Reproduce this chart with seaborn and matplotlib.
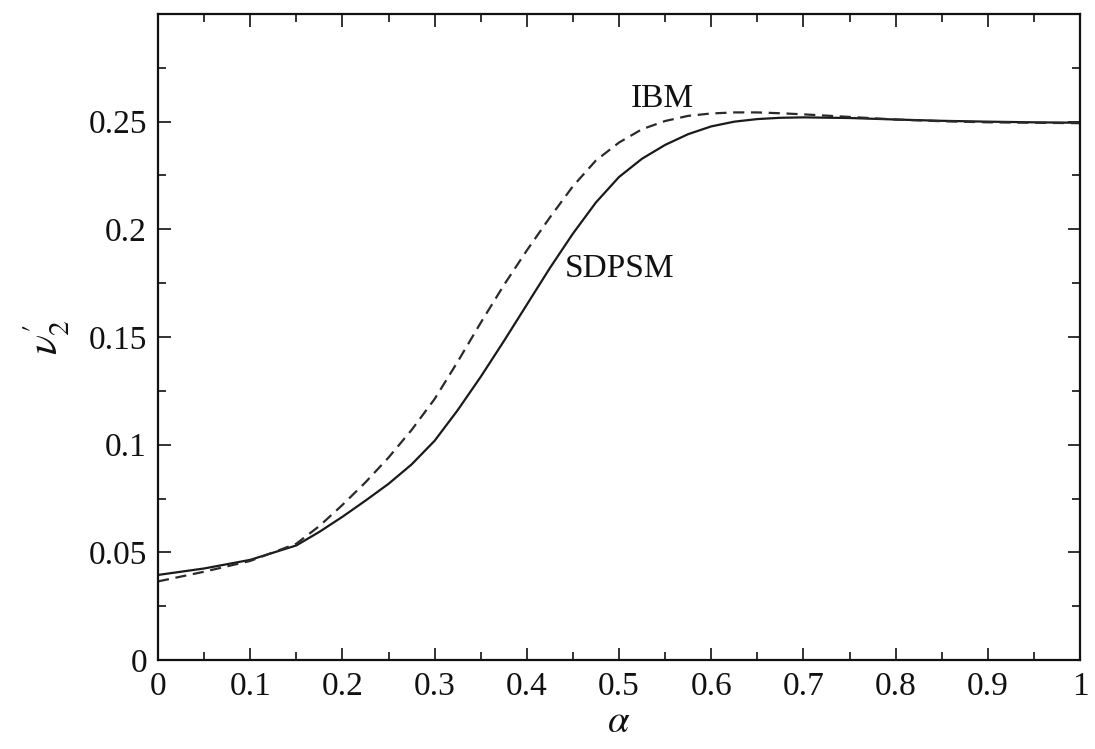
import numpy as np
import pandas as pd
import matplotlib
matplotlib.use("Agg")
import matplotlib.pyplot as plt
import seaborn as sns
from matplotlib.ticker import MultipleLocator, FixedLocator

alpha = [0.0, 0.05, 0.1, 0.15, 0.175, 0.2, 0.225, 0.25, 0.275, 0.3, 0.325,
         0.35, 0.375, 0.4, 0.425, 0.45, 0.475, 0.5, 0.525, 0.55, 0.575,
         0.6, 0.625, 0.65, 0.675, 0.7, 0.75, 0.8, 0.85, 0.9, 0.95, 1.0]
sdpsm = [0.0395, 0.0425, 0.0465, 0.0532, 0.0595, 0.0665, 0.0740, 0.0818,
         0.0908, 0.1018, 0.1160, 0.1315, 0.1480, 0.1650, 0.1820, 0.1980,
         0.2125, 0.2243, 0.2328, 0.2392, 0.2442, 0.2478, 0.2500, 0.2512,
         0.2518, 0.2520, 0.2517, 0.2510, 0.2504, 0.2500, 0.2497, 0.2495]
ibm = [0.0365, 0.0410, 0.0460, 0.0540, 0.0622, 0.0720, 0.0825, 0.0940,
       0.1068, 0.1212, 0.1385, 0.1566, 0.1740, 0.1902, 0.2055, 0.2200,
       0.2320, 0.2403, 0.2465, 0.2503, 0.2527, 0.2538, 0.2543, 0.2543,
       0.2539, 0.2534, 0.2522, 0.2510, 0.2502, 0.2497, 0.2495, 0.2493]
xticks = [0, 0.1, 0.2, 0.3, 0.4, 0.5, 0.6, 0.7, 0.8, 0.9, 1]
xticklabels = ["0", "0.1", "0.2", "0.3", "0.4", "0.5", "0.6", "0.7", "0.8", "0.9", "1"]
yticks = [0, 0.05, 0.1, 0.15, 0.2, 0.25]
yticklabels = ["0", "0.05", "0.1", "0.15", "0.2", "0.25"]

sns.set_theme(style="ticks")
plt.rcParams['font.family'] = ['Liberation Serif', 'DejaVu Serif']
plt.rcParams['mathtext.fontset'] = 'stix'

df = pd.DataFrame({"alpha": alpha, "SDPSM": sdpsm, "IBM": ibm})

fig = plt.figure(figsize=(10.95, 7.49), dpi=100)
ax = fig.add_axes([158/1095, 1 - 660/749, (1080-158)/1095, (660-14)/749])

sns.lineplot(data=df, x="alpha", y="SDPSM", ax=ax, color="#1a1a1a", lw=1.6)
sns.lineplot(data=df, x="alpha", y="IBM", ax=ax, color="#2a2a2a", lw=1.6,
             linestyle=(0, (5, 3)))

ax.set_xlim(0, 1)
ax.set_ylim(0, 0.3)
ax.xaxis.set_major_locator(FixedLocator(xticks))
ax.set_xticklabels(xticklabels)
ax.xaxis.set_minor_locator(MultipleLocator(0.05))
ax.yaxis.set_major_locator(FixedLocator(yticks))
ax.set_yticklabels(yticklabels)
ax.yaxis.set_minor_locator(MultipleLocator(0.025))

ax.tick_params(which="both", direction="in", top=True, right=True,
               color="#111111", labelsize=24, labelcolor="#111111")
ax.tick_params(which="major", length=9, width=1.2, pad=8)
ax.tick_params(which="minor", length=6, width=1.2)
for s in ax.spines.values():
    s.set_linewidth(1.6)
    s.set_color("#111111")

ax.set_xlabel(r"$\alpha$", fontsize=28, labelpad=2, color="#111111")
ax.set_ylabel(r"$\nu_2'$", fontsize=30, labelpad=12, color="#111111")

ax.text(0.547, 0.2607, "IBM", fontsize=24, ha="center", va="center", color="#111111")
ax.text(0.501, 0.1816, "SDPSM", fontsize=24, ha="center", va="center", color="#111111")

fig.savefig("out.png", dpi=100, facecolor="white")
